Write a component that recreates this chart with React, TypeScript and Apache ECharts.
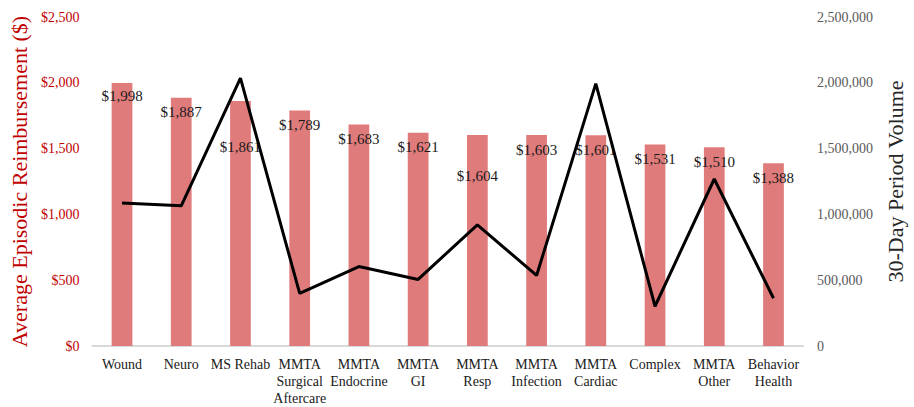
import React, { useEffect, useRef } from "react";
import * as echarts from "echarts";

const categories = [
  "Wound",
  "Neuro",
  "MS Rehab",
  "MMTA\nSurgical\nAftercare",
  "MMTA\nEndocrine",
  "MMTA\nGI",
  "MMTA\nResp",
  "MMTA\nInfection",
  "MMTA\nCardiac",
  "Complex",
  "MMTA\nOther",
  "Behavior\nHealth",
];
const reimbursement = [1998, 1887, 1861, 1789, 1683, 1621, 1604, 1603, 1601, 1531, 1510, 1388];
const volume = [1087000, 1065000, 2035000, 400000, 604000, 506000, 921000, 536000, 1994000, 302000, 1269000, 363000];
const leftTicks = { min: 0, max: 2500, interval: 500 };
const rightTicks = { min: 0, max: 2500000, interval: 500000 };
const labelShift = [0, 2, 33, 2, 2, 2, 29, 2, 2, 2, 2, 2];

const FONT = "'Liberation Serif', 'DejaVu Serif', serif";
const fmt = (v: number) => v.toLocaleString("en-US");

export default function App() {
  const ref = useRef<HTMLDivElement>(null);
  useEffect(() => {
    if (!ref.current) return;
    const chart = echarts.init(ref.current, undefined, { renderer: "svg" });
    chart.setOption({
      animation: false,
      textStyle: { fontFamily: FONT },
      grid: { left: 89, right: 103, top: 17, bottom: 59, containLabel: false },
      xAxis: {
        type: "category",
        data: categories,
        axisLine: { lineStyle: { color: "#d9d9d9", width: 2 } },
        axisTick: { show: false },
        axisLabel: {
          color: "#1a1a1a",
          fontFamily: FONT,
          fontSize: 14,
          lineHeight: 17,
          margin: 10,
          interval: 0,
        },
      },
      yAxis: [
        {
          type: "value",
          ...leftTicks,
          name: "Average Episodic Reimbursement ($)",
          nameLocation: "middle",
          nameGap: 56,
          nameTextStyle: { color: "#C00000", fontSize: 22, fontFamily: FONT },
          splitLine: { show: false },
          axisLine: { show: false },
          axisTick: { show: false },
          axisLabel: {
            color: "#C00000",
            fontFamily: FONT,
            fontSize: 14,
            margin: 13,
            formatter: (v: number) => "$" + fmt(v),
          },
        },
        {
          type: "value",
          ...rightTicks,
          name: "30-Day Period Volume",
          nameLocation: "middle",
          nameGap: 74,
          nameTextStyle: { color: "#262626", fontSize: 22, fontFamily: FONT },
          splitLine: { show: false },
          axisLine: { show: false },
          axisTick: { show: false },
          axisLabel: {
            color: "#595959",
            fontFamily: FONT,
            fontSize: 14,
            margin: 14,
            formatter: (v: number) => fmt(v),
          },
        },
      ],
      series: [
        {
          type: "bar",
          yAxisIndex: 0,
          barWidth: "35%",
          itemStyle: { color: "#E07B7B" },
          data: reimbursement.map((v, i) => ({
            value: v,
            label: { offset: [0, labelShift[i]] },
          })),
          label: {
            show: true,
            position: "insideTop",
            color: "#1a1a1a",
            fontFamily: FONT,
            fontSize: 15,
            formatter: (p: any) => "$" + fmt(p.value),
          },
        },
        {
          type: "line",
          yAxisIndex: 1,
          data: volume,
          showSymbol: false,
          symbol: "none",
          lineStyle: { color: "#000000", width: 3 },
          z: 3,
        },
      ],
    });
    return () => chart.dispose();
  }, []);
  return <div ref={ref} style={{ width: 914, height: 407, position: "absolute", left: 0, top: 0 }} />;
}
